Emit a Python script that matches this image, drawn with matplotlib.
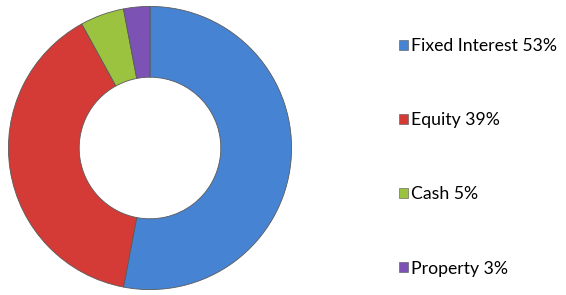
import matplotlib.pyplot as plt
from matplotlib.patches import Patch

labels = ["Fixed Interest", "Equity", "Cash", "Property"]
shares = [53, 39, 5, 3]
colors = ["#4684d3", "#d43b37", "#9cc33f", "#7c52b5"]

fig = plt.figure(figsize=(5.66, 2.95), dpi=100)
ax = fig.add_axes([7 / 566, 4 / 295, 286 / 566, 286 / 295])

wedges, _ = ax.pie(shares, colors=colors, startangle=90, counterclock=False,
                   wedgeprops=dict(width=0.5, edgecolor="#5a5a5a", linewidth=0.6))
ax.set_xlim(-1.01, 1.01)
ax.set_ylim(-1.01, 1.01)
ax.set_aspect("equal")

handles = [Patch(facecolor=c, edgecolor="#555555", linewidth=0.4) for c in colors]
legend_labels = [f"{l} {s}%" for l, s in zip(labels, shares)]
fig.legend(handles, legend_labels, loc="upper left", bbox_to_anchor=(392 / 566, 1 - 31 / 295),
           frameon=False, prop=dict(family="Lato", size=12.7), labelspacing=3.3,
           handlelength=0.5, handleheight=0.5, handletextpad=0.15, borderaxespad=0)

fig.savefig("out.png", dpi=100)
